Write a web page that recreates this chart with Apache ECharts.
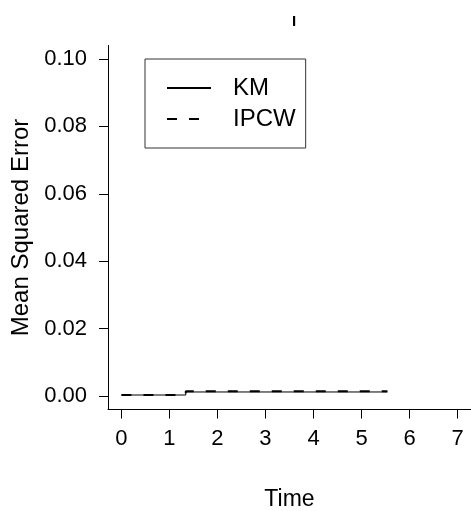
<!DOCTYPE html>
<html>
<head>
<meta charset="utf-8">
<script src="https://cdn.jsdelivr.net/npm/echarts@6/dist/echarts.min.js"></script>
<style>html,body{margin:0;padding:0;background:#fff;}#c{width:471px;height:511px;}</style>
</head>
<body>
<div id="c"></div>
<script>
var titleText = 'I';
var xTicks = [0, 1, 2, 3, 4, 5, 6, 7];
var yTicks = [0, 0.02, 0.04, 0.06, 0.08, 0.10];
var kmTime = [0, 1.34, 5.54];
var kmMSE = [0.0003, 0.0012, 0.0012];
var ipcwTime = [0, 1.34, 5.54];
var ipcwMSE = [0.0003, 0.0014, 0.0014];

function pairs(xs, ys) { return xs.map(function (x, i) { return [x, ys[i]]; }); }

var font = 'Liberation Sans, Arial, sans-serif';
var chart = echarts.init(document.getElementById('c'), null, {renderer: 'canvas'});
chart.setOption({
  animation: false,
  backgroundColor: '#fff',
  textStyle: {fontFamily: font, color: '#000'},
  title: {
    text: titleText, left: 289, top: 9, textAlign: 'center',
    textStyle: {fontSize: 15, fontWeight: 'bold', color: '#000', fontFamily: font}
  },
  legend: {
    orient: 'vertical', left: 145, top: 59,
    padding: [17, 10, 17, 21],
    borderColor: '#333', borderWidth: 1,
    itemWidth: 44, itemHeight: 20, itemGap: 7,
    itemStyle: {opacity: 0},
    textStyle: {fontSize: 24, color: '#000', fontFamily: font, padding: [0, 0, 0, 17]},
    data: ['KM', 'IPCW']
  },
  grid: {left: 108, right: 0, top: 45.5, bottom: 101.5, containLabel: false, outerBoundsMode: 'none'},
  xAxis: {
    type: 'value', min: -0.28, max: 7.28,
    name: 'Time', nameLocation: 'middle', nameGap: 79,
    nameTextStyle: {fontSize: 23, color: '#000', fontFamily: font},
    axisLine: {show: true, onZero: false, lineStyle: {color: '#000', width: 1}},
    axisTick: {show: true, length: 9, customValues: xTicks, lineStyle: {color: '#000'}},
    axisLabel: {customValues: xTicks, fontSize: 22, color: '#000', margin: 18, fontFamily: font},
    splitLine: {show: false}
  },
  yAxis: {
    type: 'value', min: -0.004, max: 0.104,
    name: 'Mean Squared Error', nameLocation: 'middle', nameGap: 72, nameRotate: 90,
    nameTextStyle: {fontSize: 24, color: '#000', fontFamily: font},
    axisLine: {show: true, onZero: false, lineStyle: {color: '#000', width: 1}},
    axisTick: {show: true, length: 9, customValues: yTicks, lineStyle: {color: '#000'}},
    axisLabel: {customValues: yTicks, fontSize: 22, color: '#000', margin: 21, fontFamily: font,
      formatter: function (v) { return v.toFixed(2); }},
    splitLine: {show: false}
  },
  series: [
    {name: 'KM', type: 'line', step: 'end', symbol: 'none', showSymbol: false,
     data: pairs(kmTime, kmMSE), lineStyle: {color: '#000', width: 1, type: 'solid'}, itemStyle: {color: '#000'}},
    {name: 'IPCW', type: 'line', step: 'end', symbol: 'none', showSymbol: false,
     data: pairs(ipcwTime, ipcwMSE), lineStyle: {color: '#000', width: 2, type: [10, 12]}, itemStyle: {color: '#000'}}
  ]
});
</script>
</body>
</html>
